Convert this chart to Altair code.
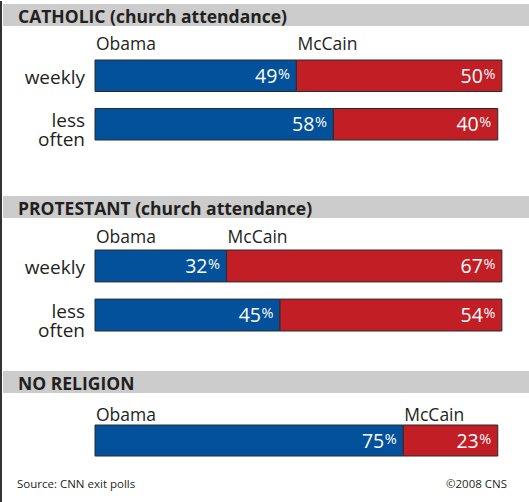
import altair as alt
import pandas as pd

titles = ["CATHOLIC (church attendance)", "PROTESTANT (church attendance)", "NO RELIGION"]
catholic_rows = ["weekly", "less\noften"]
catholic_obama = [49, 58]
catholic_mccain = [50, 40]
protestant_rows = ["weekly", "less\noften"]
protestant_obama = [32, 45]
protestant_mccain = [67, 54]
norel_rows = [" "]
norel_obama = [75]
norel_mccain = [23]
candidates = ["Obama", "McCain"]
colors = ["#03519a", "#c11e26"]
source_text = "Source: CNN exit polls"
credit_text = "\u00a92008 CNS"

FONT = "Open Sans"
W = 529
XS = alt.Scale(domain=[0, 100], range=[95, 506])


def panel(title, rows, obama, mccain, height, y_range, pad_inner, label_base, footer_y=None):
    recs = []
    for r, o, m in zip(rows, obama, mccain):
        recs.append(dict(row=r, cand="Obama", start=0, end=o, val=o))
        recs.append(dict(row=r, cand="McCain", start=o, end=o + m, val=m))
    df = pd.DataFrame(recs)
    first = df[df["row"] == rows[0]]
    head = pd.DataFrame({"title": [title]})
    rowdf = pd.DataFrame({"row": rows})
    ys = alt.Scale(domain=rows, range=y_range, paddingInner=pad_inner, paddingOuter=0)
    Y = alt.Y("row:N", scale=ys, axis=None)

    border = alt.Chart(head).mark_rule(color="#333333", strokeWidth=2).encode(
        x=alt.value(1), y=alt.value(0), y2=alt.value(height))
    hrect = alt.Chart(head).mark_rect(color="#cccccc").encode(
        x=alt.value(3), x2=alt.value(W), y=alt.value(3), y2=alt.value(25))
    htext = alt.Chart(head).mark_text(
        align="left", baseline="alphabetic", font=FONT, fontSize=17.5, fontWeight="bold",
        color="#231f20").encode(x=alt.value(18), y=alt.value(22), text="title:N")

    bars = alt.Chart(df).mark_bar(stroke="#2b2b2b", strokeWidth=1).encode(
        x=alt.X("start:Q", scale=XS, axis=None),
        x2="end:Q",
        y=Y,
        color=alt.Color("cand:N", scale=alt.Scale(domain=candidates, range=colors), legend=None),
    )
    nums = alt.Chart(df).mark_text(
        align="right", baseline="alphabetic", dx=-19, dy=7, font=FONT, fontSize=19.5,
        color="white").encode(x=alt.X("end:Q", scale=XS, axis=None), y=Y, text="val:Q")
    pct = alt.Chart(df).mark_text(
        align="left", baseline="alphabetic", dx=-18.5, dy=3, font=FONT, fontSize=14.5,
        color="white").encode(x=alt.X("end:Q", scale=XS, axis=None), y=Y, text=alt.value("%"))
    rlabels = alt.Chart(rowdf).transform_calculate(
        off="indexof(datum.row, '\\n') >= 0 ? 13 : 18"
    ).mark_text(
        align="right", baseline="middle", font=FONT, fontSize=19, lineBreak="\n",
        lineHeight=18.5, color="#231f20").encode(
        x=alt.value(85), y=Y, yOffset=alt.YOffset("off:Q", scale=None), text="row:N")
    clabels = alt.Chart(first).mark_text(
        align="left", baseline="alphabetic", dx=1, font=FONT, fontSize=17.5,
        color="#231f20").encode(x=alt.X("start:Q", scale=XS, axis=None),
                                y=alt.value(label_base), text="cand:N")
    layers = [border, hrect, htext, bars, nums, pct, rlabels, clabels]
    if footer_y is not None:
        foot = pd.DataFrame({"src": [source_text], "cr": [credit_text]})
        layers.append(alt.Chart(foot).mark_text(
            align="left", baseline="alphabetic", font=FONT, fontSize=11.5,
            color="#231f20").encode(x=alt.value(17), y=alt.value(footer_y), text="src:N"))
        layers.append(alt.Chart(foot).mark_text(
            align="right", baseline="alphabetic", font=FONT, fontSize=11.5,
            color="#231f20").encode(x=alt.value(507), y=alt.value(footer_y), text="cr:N"))
    return alt.layer(*layers).properties(width=W, height=height)


p1 = panel(titles[0], catholic_rows, catholic_obama, catholic_mccain, 192, [59, 139], 0.35, 49)
p2 = panel(titles[1], protestant_rows, protestant_obama, protestant_mccain, 175, [57, 138], 0.35, 50)
p3 = panel(titles[2], norel_rows, norel_obama, norel_mccain, 135, [57, 88], 0.0, 53, footer_y=120)

chart = alt.vconcat(p1, p2, p3, spacing=0, bounds="flush").properties(
    padding=0, background="white"
).configure_view(stroke=None)

chart.save("out.html", embed_options={"renderer": "svg", "actions": False})
